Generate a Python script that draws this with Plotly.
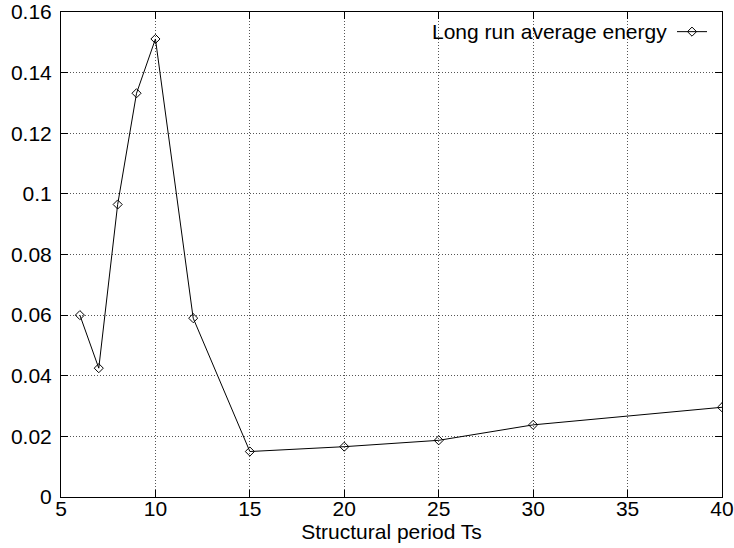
import plotly.graph_objects as go

periods = [6, 7, 8, 9, 10, 12, 15, 20, 25, 30, 40]
energy = [0.0600, 0.0425, 0.0965, 0.1332, 0.1511, 0.0590, 0.0150, 0.0166, 0.0187, 0.0238, 0.0296]

x_ticks = [5, 10, 15, 20, 25, 30, 35, 40]
y_ticks = [0, 0.02, 0.04, 0.06, 0.08, 0.1, 0.12, 0.14, 0.16]
y_labels = ["0", "0.02", "0.04", "0.06", "0.08", "0.1", "0.12", "0.14", "0.16"]

series_name = "Long run average energy"
x_title = "Structural period Ts"

font = "Liberation Sans, Arial, sans-serif"
fs = 21

fig = go.Figure()
fig.add_trace(go.Scatter(
    x=periods, y=energy, mode="lines+markers", name="",
    line=dict(color="black", width=1),
    marker=dict(symbol="diamond-open", size=7, color="black", line=dict(width=1, color="black")),
    showlegend=True,
))

axis_common = dict(
    showline=True, linecolor="black", linewidth=1, mirror="allticks",
    ticks="inside", ticklen=7, tickcolor="black", tickwidth=1,
    showgrid=True, gridcolor="#555", griddash="1px,2px", gridwidth=1,
    zeroline=False, automargin=False,
    tickfont=dict(family=font, size=fs, color="black"),
)

fig.update_xaxes(range=[5, 40], tickvals=x_ticks, ticklabelstandoff=-7,
                 title=dict(text=x_title, font=dict(family=font, size=fs, color="black"), standoff=0),
                 **axis_common)
fig.update_yaxes(range=[0, 0.16], tickvals=y_ticks, ticktext=y_labels, ticklabelstandoff=4,
                 **axis_common)

fig.add_annotation(text=series_name, xref="paper", yref="paper", x=(669 - 61) / 661, y=(497 - 32) / 485,
                   xanchor="right", yanchor="middle", showarrow=False,
                   font=dict(family=font, size=fs, color="black"))

fig.update_layout(
    width=734, height=548,
    margin=dict(l=61, r=12, t=12, b=51, autoexpand=False),
    paper_bgcolor="white", plot_bgcolor="white",
    font=dict(family=font, size=fs, color="black"),
    legend=dict(x=(672 - 61) / 661, y=(497 - 32) / 485, xanchor="left", yanchor="middle",
                bgcolor="rgba(0,0,0,0)", borderwidth=0, itemwidth=30,
                font=dict(family=font, size=fs)),
)

fig.write_html("out.html")
